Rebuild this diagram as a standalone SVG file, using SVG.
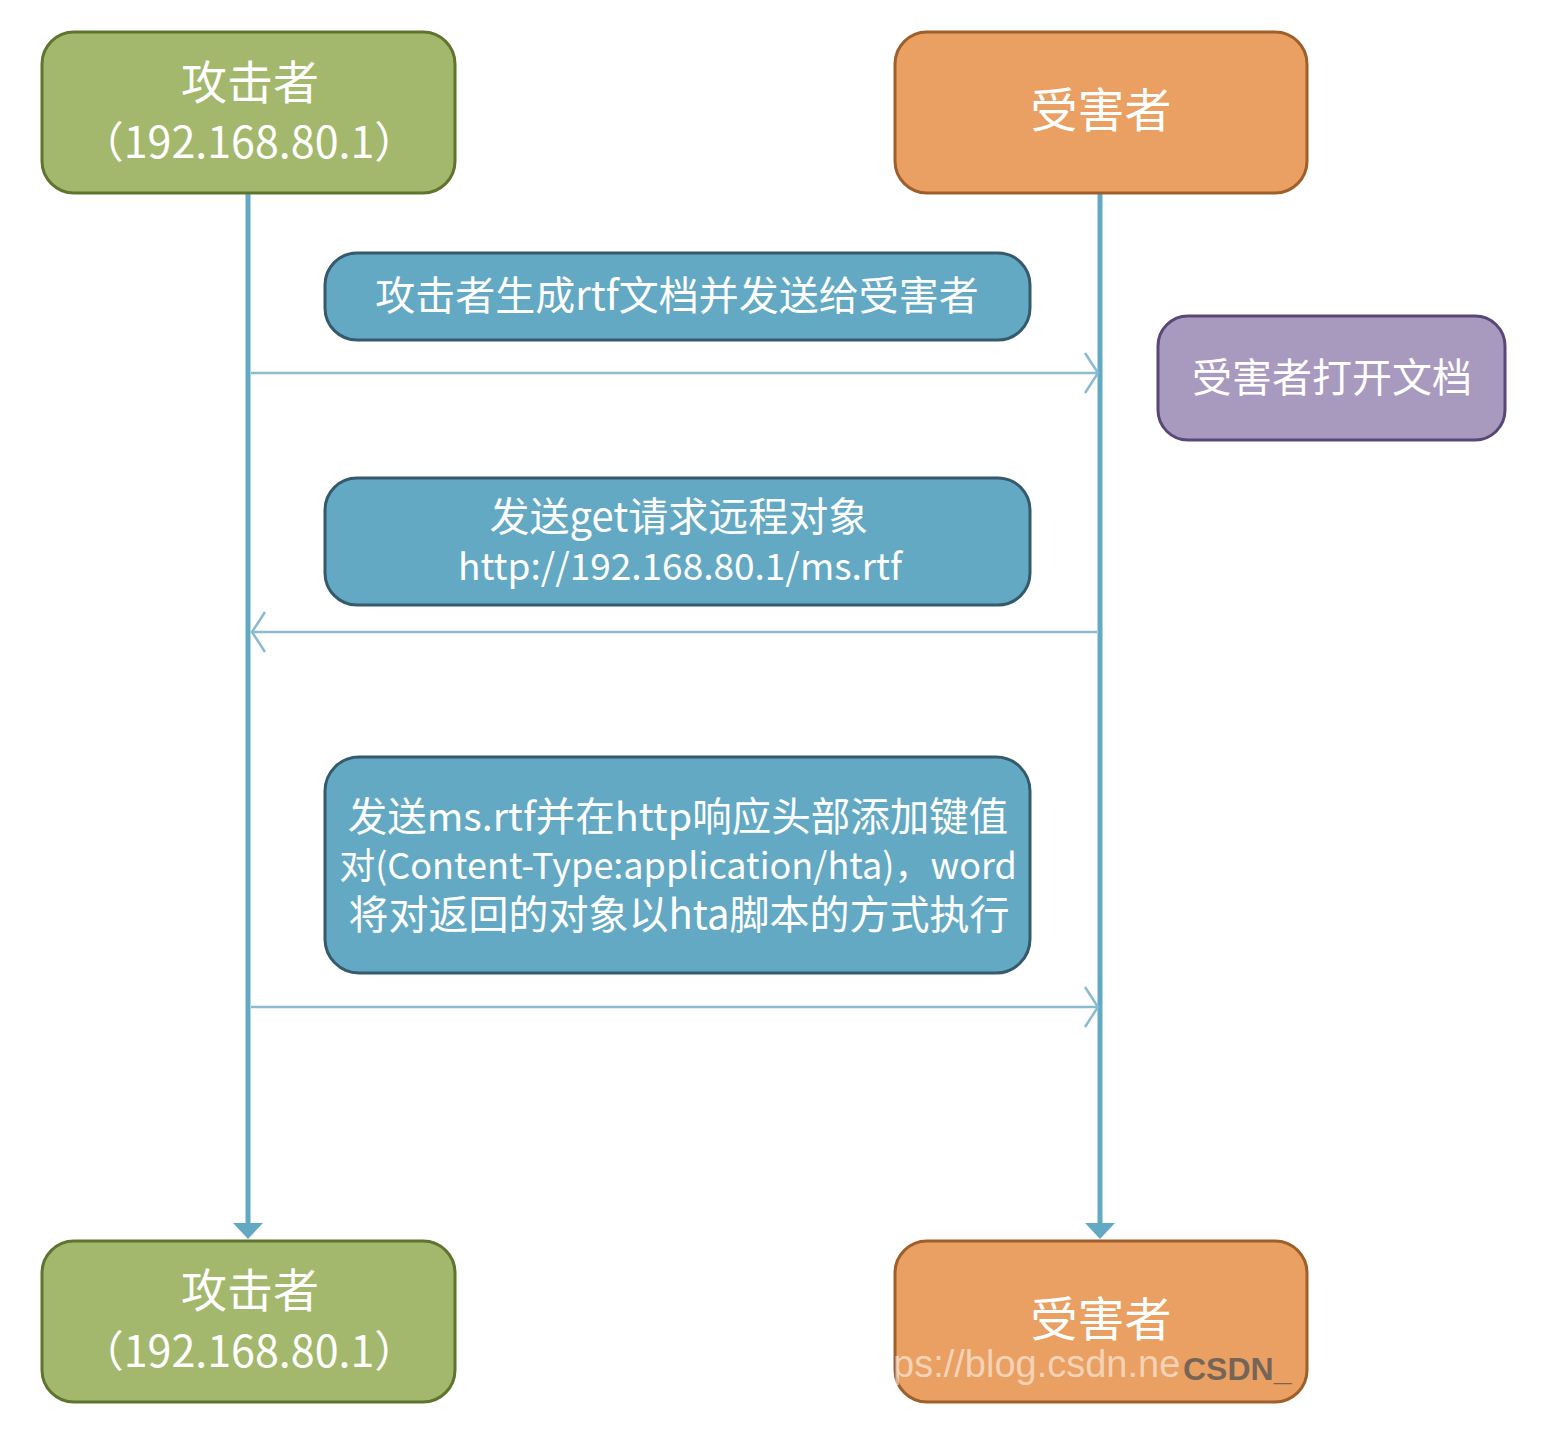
<svg xmlns="http://www.w3.org/2000/svg" width="1565" height="1440" viewBox="0 0 1565 1440">
<style>
.t{font-family:"Noto Sans CJK SC","Microsoft YaHei",sans-serif;fill:#ffffff;text-anchor:middle}
.green{fill:#a3b86c;stroke:#5e742f;stroke-width:3}
.orange{fill:#e9a062;stroke:#9e5f2b;stroke-width:3}
.blue{fill:#64a9c4;stroke:#355a6b;stroke-width:3}
.purple{fill:#a899bf;stroke:#584878;stroke-width:3}
.life{stroke:#64a9c4;stroke-width:5;fill:none}
.msg{stroke:#8cbad0;stroke-width:2.5;fill:none}
</style>
<defs>
<marker id="tri" viewBox="0 0 30 16" refX="15" refY="0" markerWidth="30" markerHeight="16" markerUnits="userSpaceOnUse" orient="0">
<path d="M0 0 L30 0 L15 16 Z" fill="#64a9c4"/>
</marker>
</defs>
<rect width="1565" height="1440" fill="#ffffff"/>
<g id="connectors">
<line class="life" x1="248" y1="193" x2="248" y2="1223" marker-end="url(#tri)"/>
<line class="life" x1="1100" y1="193" x2="1100" y2="1223" marker-end="url(#tri)"/>
<line class="msg" x1="251" y1="373" x2="1098" y2="373"/>
<polyline class="msg" points="1085,353 1098,373 1085,393"/>
<line class="msg" x1="252" y1="632" x2="1097" y2="632"/>
<polyline class="msg" points="265,612 252,632 265,652"/>
<line class="msg" x1="251" y1="1007" x2="1098" y2="1007"/>
<polyline class="msg" points="1085,987 1098,1007 1085,1027"/>
</g>
<g id="attacker-top">
<rect class="green" x="42" y="32" width="413" height="161" rx="32"/>
<text class="t" x="250" y="99" font-size="46">攻击者</text>
<text class="t" x="249" y="158" font-size="43">（192.168.80.1）</text>
</g>
<g id="victim-top">
<rect class="orange" x="895" y="32" width="412" height="161" rx="32"/>
<text class="t" x="1101" y="127" font-size="47">受害者</text>
</g>
<g id="msg1">
<rect class="blue" x="325" y="253" width="705" height="87" rx="32"/>
<text class="t" x="677" y="310" font-size="40">攻击者生成rtf文档并发送给受害者</text>
</g>
<g id="victim-open">
<rect class="purple" x="1158" y="316" width="347" height="124" rx="30"/>
<text class="t" x="1332" y="392" font-size="40">受害者打开文档</text>
</g>
<g id="msg2">
<rect class="blue" x="325" y="478" width="705" height="127" rx="32"/>
<text class="t" x="679" y="531" font-size="40">发送get请求远程对象</text>
<text class="t" x="680" y="580" font-size="37">http://192.168.80.1/ms.rtf</text>
</g>
<g id="msg3">
<rect class="blue" x="325" y="757" width="705" height="216" rx="34"/>
<text class="t" x="678" y="831" font-size="39.5">发送ms.rtf并在http响应头部添加键值</text>
<text class="t" x="678" y="879" font-size="36">对(Content-Type:application/hta)，word</text>
<text class="t" x="679" y="929" font-size="40">将对返回的对象以hta脚本的方式执行</text>
</g>
<g id="attacker-bottom">
<rect class="green" x="42" y="1241" width="413" height="161" rx="32"/>
<text class="t" x="250" y="1307" font-size="46">攻击者</text>
<text class="t" x="249" y="1367" font-size="43">（192.168.80.1）</text>
</g>
<g id="victim-bottom">
<rect class="orange" x="895" y="1241" width="412" height="161" rx="32"/>
<text class="t" x="1101" y="1336" font-size="47">受害者</text>
</g>
<g id="watermark">
<text x="893" y="1377" font-family="Liberation Sans, Arial, sans-serif" font-size="38" fill="#ffffff" fill-opacity="0.55">ps://blog.csdn.ne</text>
<text x="1183" y="1380" font-family="Liberation Sans, Arial, sans-serif" font-size="32" font-weight="bold" fill="#555555" fill-opacity="0.8">CSDN_</text>
</g>
</svg>
